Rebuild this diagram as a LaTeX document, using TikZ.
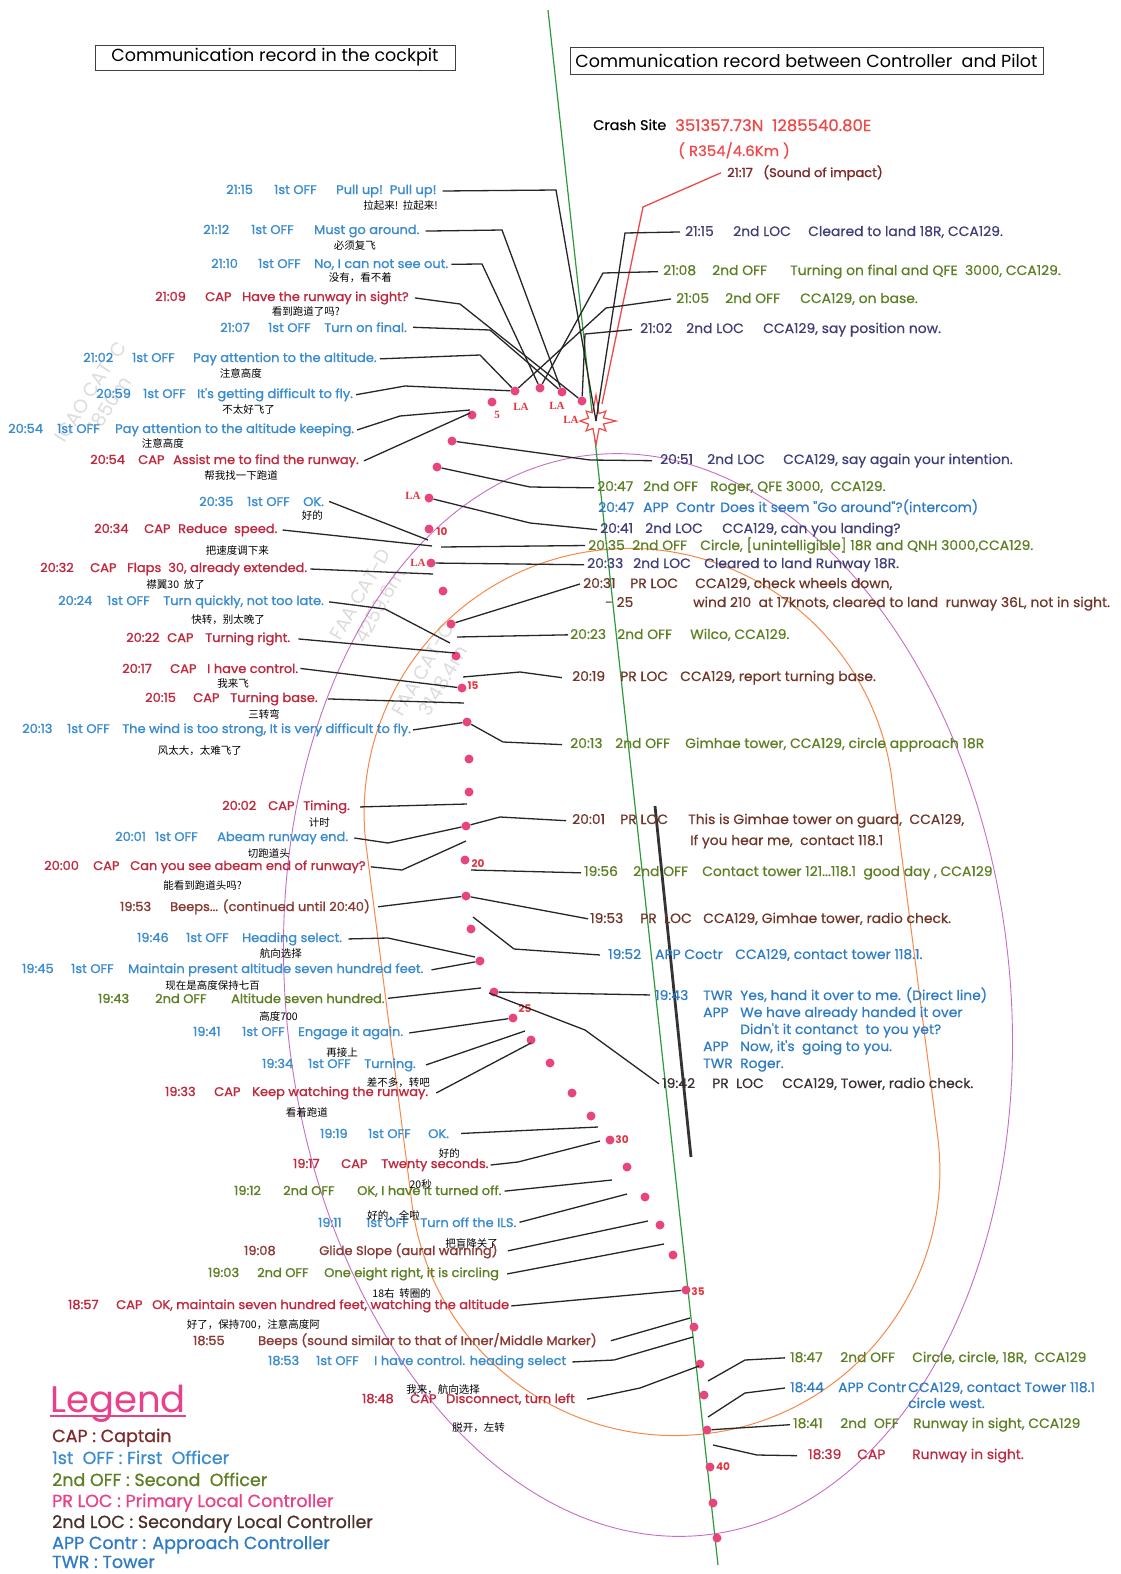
\documentclass[tikz,border=0pt]{standalone}
\usepackage{fontspec}
\setmainfont{Poppins}
\newfontfamily\cond[FakeStretch=1.04, FakeBold=1.3]{Poppins}
\newfontfamily\rfont[FakeStretch=1.03, FakeBold=0.5]{Poppins}
\newfontfamily\legfont[FakeBold=0.8]{Poppins}
\newfontfamily\cjk{Noto Sans CJK SC}
\newfontfamily\lafont{Liberation Serif}
\usetikzlibrary{calc}
\definecolor{capc}{HTML}{C0283E}
\definecolor{offc}{HTML}{3A8CCF}
\definecolor{sndc}{HTML}{5C7F23}
\definecolor{locc}{HTML}{3E3E78}
\definecolor{prc}{HTML}{6E3528}
\definecolor{dkc}{HTML}{3A3030}
\definecolor{appc}{HTML}{2E7CC6}
\definecolor{beepc}{HTML}{8A3A35}
\definecolor{dotc}{HTML}{E8457A}
\definecolor{numc}{HTML}{E3353F}
\definecolor{legc}{HTML}{E8408A}
\definecolor{grn}{HTML}{2E9A3A}
\definecolor{orng}{HTML}{F5894A}
\definecolor{purp}{HTML}{C86CC8}
\definecolor{crashred}{HTML}{F04848}
\definecolor{impc}{HTML}{7A2A2A}
\definecolor{lgbrown}{HTML}{4A3028}
\definecolor{wmark}{HTML}{DCDCDC}
\newcommand{\colrow}[5]{\makebox[#1][l]{#2}\makebox[#3][l]{#4}#5}
\begin{document}
\begin{tikzpicture}[x=1pt,y=-1pt,
  lt/.style={anchor=base west, inner sep=0pt, font=\cond\fontsize{12.5}{14}\selectfont},
  rt/.style={anchor=base west, inner sep=0pt, font=\rfont\fontsize{13.5}{14}\selectfont},
  cn/.style={anchor=base east, inner sep=0pt, font=\cjk\fontsize{10.5}{11}\selectfont},
  conn/.style={black!85, line width=1.3pt},
  dot/.style={circle, fill=dotc, inner sep=0pt, minimum size=9pt},
  lalab/.style={inner sep=0pt, text=numc, font=\lafont\bfseries\fontsize{11}{11}\selectfont},
  numlab/.style={inner sep=0pt, text=numc, font=\bfseries\fontsize{10.5}{11}\selectfont},
  titlebox/.style={draw=black!75, line width=0.8pt, inner sep=0pt, font=\fontsize{17.5}{18}\selectfont},
  leg/.style={anchor=base west, inner sep=0pt, font=\legfont\fontsize{17.5}{18}\selectfont},
  wm/.style={inner sep=0pt, text=wmark, align=center, font=\fontsize{19}{23}\selectfont}
]
\useasboundingbox (0,0) rectangle (1120,1574);
\fill[white] (0,0) rectangle (1120,1574);

% faint chart labels
\node[wm, rotate=57] (wm1) at (100,398) {ICAO CAT-C\\1850m};
\node[wm, rotate=60] (wm2) at (370,600) {FAA CAT-D\\4259.6m};
\node[wm, rotate=60] (wm3) at (433,675) {FAA CAT-C\\3148.4m};

% circling areas
\draw[purp, line width=0.9pt, rotate around={6:(648,995)}] (648,995) ellipse[x radius=362, y radius=543];
\draw[orng, line width=1pt, rotate around={7.3:(652,992)}]
  (387,812) arc[start angle=180, end angle=360, radius=265] -- (917,1172)
  arc[start angle=0, end angle=180, radius=265] -- cycle;

% runway line and green track axis
\draw[black!80, line width=2.8pt] (655,806) -- (691,1157);
\draw[grn, line width=1.2pt] (548,10) -- (718,1565);

% titles
\node[titlebox, minimum width=360pt, minimum height=25pt] (tl) at (275,57.5) {Communication record in the cockpit};
\node[titlebox, minimum width=473pt, minimum height=27pt] (tr) at (806.5,60.5) {Communication record between Controller\ \ and Pilot};

% crash site
\node[rt, font=\rfont\fontsize{14}{14}\selectfont] (crash) at (593,130) {Crash Site};
\node[rt, text=crashred, font=\rfont\fontsize{16}{16}\selectfont] (coord) at (675,131) {351357.73N\ \ 1285540.80E};
\node[rt, text=crashred, font=\rfont\fontsize{14.5}{15}\selectfont] (r354) at (678,156) {( R354/4.6Km )};
\node[rt, text=impc, font=\cond\fontsize{12.5}{13}\selectfont] (impact) at (727,177) {21:17\ \ \ (Sound of impact)};
\coordinate (star) at (596,421);
\draw[crashred, line width=1.3pt] ([xshift=-6pt]impact.west) -- (643,207) -- (602,404);
\draw[crashred, fill=white, line width=1.2pt]
  ($(star)+(0:20)$) -- ($(star)+(22:8)$) -- ($(star)+(45:14)$) -- ($(star)+(67:8)$) --
  ($(star)+(90:24)$) -- ($(star)+(112:8)$) -- ($(star)+(135:14)$) -- ($(star)+(157:8)$) --
  ($(star)+(180:16)$) -- ($(star)+(202:8)$) -- ($(star)+(225:14)$) -- ($(star)+(247:9)$) --
  ($(star)+(270:26)$) -- ($(star)+(292:8)$) -- ($(star)+(315:14)$) -- ($(star)+(337:8)$) -- cycle;

% track dots
\foreach \n/\x/\y in {1/515/391,2/540/388,3/562/392,4/582/401,5/492/402,6/472/415,7/452/441,8/437/467,9/429/498,10/429/529,
  11/431/563,12/443/591,13/451/624,14/456/656,15/462/688,16/467/722,17/469/759,18/469/792,19/466/826,20/465/860,
  21/466/896,22/471/929,23/480/961,24/494/992,25/513/1018,26/531/1040,27/550/1063,28/572/1093,29/591/1116,30/610/1140,
  31/627/1167,32/645/1197,33/660/1225,34/673/1255,35/686/1290,36/694/1327,37/700/1364,38/704/1395,39/707/1430,40/710/1467,
  41/713/1503,42/717/1538}
  \node[dot] (d\n) at (\x,\y) {};
\node[lalab] at (521,407) {LA};
\node[lalab] at (557,406) {LA};
\node[lalab] at (571,420) {LA};
\node[lalab] at (413,496) {LA};
\node[lalab] at (418,563) {LA};
\node[lalab] at (497,415) {5};
\node[numlab] at (442,532) {10};
\node[numlab] at (473,686) {15};
\node[numlab] at (478,864) {20};
\node[numlab] at (525,1009) {25};
\node[numlab] at (622,1140) {30};
\node[numlab] at (698,1292) {35};
\node[numlab] at (723,1467) {40};

% ---------- cockpit records (left) ----------
\node[lt, text=offc] (L2115) at (226,194) {\colrow{48pt}{21:15}{62pt}{1st OFF}{Pull up!\ \ Pull up!}};
\node[lt, text=offc] (L2112) at (203,234) {\colrow{48pt}{21:12}{63pt}{1st OFF}{Must go around.}};
\node[lt, text=offc] (L2110) at (211,268) {\colrow{47pt}{21:10}{56pt}{1st OFF}{No, I can not see out.}};
\node[lt, text=capc] (L2109) at (155,301) {\colrow{50pt}{21:09}{37pt}{CAP}{Have the runway in sight?}};
\node[lt, text=offc] (L2107) at (220,332) {\colrow{48pt}{21:07}{56pt}{1st OFF}{Turn on final.}};
\node[lt, text=offc] (L2102) at (83,362) {\colrow{49pt}{21:02}{61pt}{1st OFF}{Pay attention to the altitude.}};
\node[lt, text=offc] (L2059) at (96,398) {\colrow{47pt}{20:59}{54pt}{1st OFF}{It's getting difficult to fly.}};
\node[lt, text=offc] (L2054a) at (8,433) {\colrow{49pt}{20:54}{58pt}{1st OFF}{Pay attention to the altitude keeping.}};
\node[lt, text=capc] (L2054b) at (90,464) {\colrow{48pt}{20:54}{35pt}{CAP}{Assist me to find the runway.}};
\node[lt, text=offc] (L2035) at (199,506) {\colrow{48pt}{20:35}{56pt}{1st OFF}{OK.}};
\node[lt, text=capc] (L2034) at (94,533) {\colrow{50pt}{20:34}{34pt}{CAP}{Reduce\ \ speed.}};
\node[lt, text=capc] (L2032) at (40,572) {\colrow{50pt}{20:32}{37pt}{CAP}{Flaps\ \ 30, already extended.}};
\node[lt, text=offc] (L2024) at (58,605) {\colrow{49pt}{20:24}{56pt}{1st OFF}{Turn quickly, not too late.}};
\node[lt, text=capc] (L2022) at (126,642) {\colrow{41pt}{20:22}{38pt}{CAP}{Turning right.}};
\node[lt, text=capc] (L2017) at (122,673) {\colrow{48pt}{20:17}{37pt}{CAP}{I have control.}};
\node[lt, text=capc] (L2015) at (145,702) {\colrow{48pt}{20:15}{37pt}{CAP}{Turning base.}};
\node[lt, text=offc] (L2013) at (22,733) {\colrow{45pt}{20:13}{55pt}{1st OFF}{The wind is too strong, It is very difficult to fly.}};
\node[lt, text=capc] (L2002) at (222,810) {\colrow{46pt}{20:02}{35pt}{CAP}{Timing.}};
\node[lt, text=offc] (L2001) at (115,841) {\colrow{40pt}{20:01}{62pt}{1st OFF}{Abeam runway end.}};
\node[lt, text=capc] (L2000) at (44,870) {\colrow{49pt}{20:00}{37pt}{CAP}{Can you see abeam end of runway?}};
\node[lt, text=beepc] (L1953) at (120,911) {\makebox[50pt][l]{19:53}Beeps... (continued until 20:40)};
\node[lt, text=offc] (L1946) at (137,942) {\colrow{49pt}{19:46}{56pt}{1st OFF}{Heading select.}};
\node[lt, text=offc] (L1945) at (22,973) {\colrow{49pt}{19:45}{57pt}{1st OFF}{Maintain present altitude seven hundred feet.}};
\node[lt, text=sndc] (L1943) at (98,1003) {\colrow{57pt}{19:43}{76pt}{2nd OFF}{Altitude seven hundred.}};
\node[lt, text=offc] (L1941) at (193,1036) {\colrow{49pt}{19:41}{56pt}{1st OFF}{Engage it again.}};
\node[lt, text=offc] (L1934) at (262,1068) {\colrow{46pt}{19:34}{56pt}{1st OFF}{Turning.}};
\node[lt, text=capc] (L1933) at (165,1096) {\colrow{49pt}{19:33}{38pt}{CAP}{Keep watching the runway.}};
\node[lt, text=offc] (L1919) at (320,1138) {\colrow{48pt}{19:19}{60pt}{1st OFF}{OK.}};
\node[lt, text=capc] (L1917) at (293,1168) {\colrow{48pt}{19:17}{40pt}{CAP}{Twenty seconds.}};
\node[lt, text=sndc] (L1912) at (234,1195) {\colrow{49pt}{19:12}{74pt}{2nd OFF}{OK, I have it turned off.}};
\node[lt, text=offc] (L1911) at (318,1227) {\colrow{48pt}{19:11}{54pt}{1st OFF}{Turn off the ILS.}};
\node[lt, text=beepc] (L1908) at (244,1255) {\makebox[75pt][l]{19:08}Glide Slope (aural warning)};
\node[lt, text=sndc] (L1903) at (208,1277) {\colrow{49pt}{19:03}{67pt}{2nd OFF}{One eight right, it is circling}};
\node[lt, text=capc] (L1857) at (68,1309) {\colrow{48pt}{18:57}{36pt}{CAP}{OK, maintain seven hundred feet, watching the altitude}};
\node[lt, text=beepc] (L1855) at (193,1345) {\makebox[65pt][l]{18:55}Beeps (sound similar to that of Inner/Middle Marker)};
\node[lt, text=offc] (L1853) at (268,1365) {\colrow{48pt}{18:53}{58pt}{1st OFF}{I have control. heading select}};
\node[lt, text=capc] (L1848) at (362,1403) {\colrow{48pt}{18:48}{36pt}{CAP}{Disconnect, turn left}};

% Chinese translations
\node[cn] (C2115) at (438,209) {拉起来!\ \ 拉起来!};
\node[cn] (C2112) at (376,249) {必须复飞};
\node[cn] (C2110) at (392,281) {没有，看不着};
\node[cn] (C2109) at (340,315) {看到跑道了吗?};
\node[cn] (C2102) at (262,377) {注意高度};
\node[cn] (C2059) at (275,413) {不太好飞了};
\node[cn] (C2054a) at (184,447) {注意高度};
\node[cn] (C2054b) at (278,479) {帮我找一下跑道};
\node[cn] (C2035) at (323,519) {好的};
\node[cn] (C2034) at (269,554) {把速度调下来};
\node[cn] (C2032) at (205,588) {襟翼30\ \ 放了};
\node[cn] (C2024) at (265,623) {快转，别太晚了};
\node[cn] (C2017) at (249,687) {我来飞};
\node[cn] (C2015) at (280,718) {三转弯};
\node[cn] (C2013) at (242,754) {风太大，太难飞了};
\node[cn] (C2002) at (330,826) {计时};
\node[cn] (C2001) at (290,857) {切跑道头};
\node[cn] (C2000) at (242,889) {能看到跑道头吗?};
\node[cn] (C1946) at (302,957) {航向选择};
\node[cn] (C1945) at (260,989) {现在是高度保持七百};
\node[cn] (C1943) at (298,1020) {高度700};
\node[cn] (C1941) at (358,1056) {再接上};
\node[cn] (C1934) at (430,1086) {差不多，转吧};
\node[cn] (C1933) at (328,1116) {看着跑道};
\node[cn] (C1919) at (460,1157) {好的};
\node[cn] (C1917) at (432,1188) {20秒};
\node[cn] (C1912) at (420,1219) {好的，全啦};
\node[cn] (C1911) at (498,1247) {把盲降关了};
\node[cn] (C1903) at (431,1297) {18右\ \ 转圈的};
\node[cn] (C1857) at (320,1328) {好了，保持700，注意高度阿};
\node[cn] (C1853) at (480,1393) {我来，航向选择};
\node[cn] (C1848) at (505,1431) {脱开，左转};

% ---------- controller records (right) ----------
\node[rt, text=locc] (R2115) at (685,236) {\colrow{48pt}{21:15}{75pt}{2nd LOC}{Cleared to land 18R, CCA129.}};
\node[rt, text=sndc] (R2108) at (663,275) {\colrow{49pt}{21:08}{78pt}{2nd OFF}{Turning on final and QFE\ \ 3000, CCA129.}};
\node[rt, text=sndc] (R2105) at (676,303) {\colrow{49pt}{21:05}{75pt}{2nd OFF}{CCA129, on base.}};
\node[rt, text=locc] (R2102) at (640,333) {\colrow{46pt}{21:02}{77pt}{2nd LOC}{CCA129, say position now.}};
\node[rt, text=locc] (R2051) at (660,464) {\colrow{47pt}{20:51}{76pt}{2nd LOC}{CCA129, say again your intention.}};
\node[rt, text=sndc] (R2047a) at (597,491) {\colrow{46pt}{20:47}{67pt}{2nd OFF}{Roger, QFE 3000,\ \ CCA129.}};
\node[rt, text=appc] (R2047b) at (598,512) {\colrow{45pt}{20:47}{77pt}{APP\ \ Contr}{Does it seem "Go around"?(intercom)}};
\node[rt, text=locc] (R2041) at (600,533) {\colrow{45pt}{20:41}{77pt}{2nd LOC}{CCA129, can you landing?}};
\node[rt, text=sndc] (R2035) at (588,550) {\colrow{44pt}{20:35}{68pt}{2nd OFF}{Circle, [unintelligible] 18R and QNH 3000,CCA129.}};
\node[rt, text=locc] (R2033) at (587,568) {\colrow{46pt}{20:33}{71pt}{2nd LOC}{Cleared to land Runway 18R.}};
\node[rt, text=prc] (R2031) at (583,588) {\colrow{47pt}{20:31}{65pt}{PR LOC}{CCA129, check wheels down,}};
\node[rt, text=prc] (R2031b) at (605,607) {\makebox[88pt][l]{- 25}wind 210\ \ at 17knots, cleared to land\ \ runway 36L, not in sight.};
\node[rt, text=sndc] (R2023) at (570,639) {\colrow{47pt}{20:23}{73pt}{2nd OFF}{Wilco, CCA129.}};
\node[rt, text=prc] (R2019) at (572,681) {\colrow{48pt}{20:19}{60pt}{PR LOC}{CCA129, report turning base.}};
\node[rt, text=sndc] (R2013) at (570,748) {\colrow{45pt}{20:13}{70pt}{2nd OFF}{Gimhae tower, CCA129, circle approach 18R}};
\node[rt, text=prc] (R2001) at (572,824) {\colrow{48pt}{20:01}{68pt}{PR LOC}{This is Gimhae tower on guard,\ \ CCA129,}};
\node[rt, text=prc] (R2001b) at (690,845) {If you hear me,\ \ contact 118.1};
\node[rt, text=sndc] (R1956) at (584,876) {\colrow{49pt}{19:56}{69pt}{2nd OFF}{Contact tower 121...118.1\ \ good day , CCA129}};
\node[rt, text=prc] (R1953) at (590,923) {\colrow{50pt}{19:53}{63pt}{PR\ \ LOC}{CCA129, Gimhae tower, radio check.}};
\node[rt, text=appc] (R1952) at (608,959) {\colrow{47pt}{19:52}{80pt}{APP Coctr}{CCA129, contact tower 118.1.}};
\node[rt, text=appc] (R1943) at (655,1000) {\colrow{48pt}{19:43}{37pt}{TWR}{Yes, hand it over to me. (Direct line)}};
\node[rt, text=appc] (R1943b) at (703,1017) {\makebox[37pt][l]{APP}We have already handed it over};
\node[rt, text=appc] (R1943c) at (740,1034) {Didn't it contanct\ \ to you yet?};
\node[rt, text=appc] (R1943d) at (703,1051) {\makebox[37pt][l]{APP}Now, it's\ \ going to you.};
\node[rt, text=appc] (R1943e) at (703,1068) {\makebox[37pt][l]{TWR}Roger.};
\node[rt, text=dkc] (R1942) at (662,1088) {\colrow{50pt}{19:42}{70pt}{PR\ \ LOC}{CCA129, Tower, radio check.}};
\node[rt, text=sndc] (R1847) at (790,1362) {\colrow{50pt}{18:47}{72pt}{2nd OFF}{Circle, circle, 18R,\ \ CCA129}};
\node[rt, text=appc] (R1844) at (790,1392) {\colrow{48pt}{18:44}{70pt}{APP Contr}{CCA129, contact Tower 118.1}};
\node[rt, text=appc] (R1844b) at (908,1408) {circle west.};
\node[rt, text=sndc] (R1841) at (793,1428) {\colrow{47pt}{18:41}{73pt}{2nd\ \ OFF}{Runway in sight, CCA129}};
\node[rt, text=capc] (R1839) at (808,1459) {\colrow{49pt}{18:39}{55pt}{CAP}{Runway in sight.}};

% ---------- connectors: cockpit ----------
\draw[conn] ([xshift=6pt]L2115.east) -- (556,190) -- (star);
\draw[conn] ([xshift=6pt]L2112.east) -- (502,230) -- (d3);
\draw[conn] ([xshift=3pt]L2110.east) -- (482,264) -- (d2);
\draw[conn] ([xshift=6pt]L2109.east) -- (460,304) -- (d4);
\draw[conn] ([xshift=6pt]L2107.east) -- (490,330) -- (d3);
\draw[conn] ([xshift=3pt]L2102.east) -- (480,355) -- (d1);
\draw[conn] ([xshift=3pt]L2059.east) -- (405,386) -- (d1);
\draw[conn] ([xshift=3pt]L2054a.east) -- (400,416) -- (470,410);
\draw[conn] ([xshift=5pt]L2054b.east) -- (470,413);
\draw[conn] ([xshift=5pt]L2035.east) -- (428,540);
\draw[conn] ([xshift=5pt]L2034.east) -- (432,546);
\draw[conn] ([xshift=3pt]L2032.east) -- (433,574);
\draw[conn] ([xshift=5pt]L2024.east) -- (385,609) -- (450,643);
\draw[conn] ([xshift=8pt]L2022.east) -- (455,653);
\draw[conn] ([xshift=2pt]L2017.east) -- (d15);
\draw[conn] ([xshift=10pt]L2015.east) -- (464,703);
\draw[conn] ([xshift=2pt]L2013.east) -- (d16);
\draw[conn] ([xshift=10pt]L2002.east) -- (467,804);
\draw[conn] ([xshift=6pt]L2001.east) -- (388,843) -- (d19);
\draw[conn] ([xshift=5pt]L2000.east) -- (402,870) -- (466,841);
\draw[conn] ([xshift=8pt]L1953.east) -- (d21);
\draw[conn] ([xshift=6pt]L1946.east) -- (388,938) -- (475,957);
\draw[conn] ([xshift=8pt]L1945.east) -- (d23);
\draw[conn] ([xshift=3pt]L1943.east) -- (481,988);
\draw[conn] ([xshift=6pt]L1941.east) -- (d25);
\draw[conn] ([xshift=10pt]L1934.east) -- (525,1031);
\draw[conn] ([xshift=8pt]L1933.east) -- (531,1043);
\draw[conn] ([xshift=12pt]L1919.east) -- (598,1127);
\draw[conn] ([xshift=2pt]L1917.east) -- (518,1162) -- (600,1141);
\draw[conn] ([xshift=3pt]L1912.east) -- (612,1180);
\draw[conn] ([xshift=3pt]L1911.east) -- (627,1194);
\draw[conn] ([xshift=10pt]L1908.east) -- (648,1221);
\draw[conn] ([xshift=8pt]L1903.east) -- (664,1244);
\draw[conn] ([xshift=2pt]L1857.east) -- (d35);
\draw[conn] ([xshift=14pt]L1855.east) -- (690,1318);
\draw[conn] ([xshift=6pt]L1853.east) -- (614,1360) -- (693,1337);
\draw[conn] ([xshift=12pt]L1848.east) -- (640,1388) -- (699,1366);

% ---------- connectors: controller ----------
\draw[conn] ([xshift=-5pt]R2115.west) -- (625,233) -- (star);
\draw[conn] ([xshift=-5pt]R2108.west) -- (603,273) -- (d2);
\draw[conn] ([xshift=-5pt]R2105.west) -- (606,308) -- (d1);
\draw[conn] ([xshift=-8pt]R2102.west) -- (585,334) -- (d4);
\draw[conn] ([xshift=-8pt]R2051.west) -- (590,460) -- (d7);
\draw[conn] ([xshift=-3pt]R2047a.west) -- (530,487) -- (d8);
\draw[conn] ([xshift=-3pt]R2041.west) -- (530,523) -- (d9);
\draw[conn] ([xshift=-3pt]R2035.west) -- (441,547);
\draw[conn] ([xshift=-3pt]R2033.west) -- (d11);
\draw[conn] ([xshift=-3pt]R2031.west) -- (d13);
\draw[conn] ([xshift=-2pt]R2023.west) -- (457,637);
\draw[conn] ([xshift=-10pt]R2019.west) -- (520,672) -- (463,677);
\draw[conn] ([xshift=-8pt]R2013.west) -- (503,742) -- (d16);
\draw[conn] ([xshift=-6pt]R2001.west) -- (500,817) -- (d19);
\draw[conn] ([xshift=-3pt]R1956.west) -- (471,870);
\draw[conn] ([xshift=-2pt]R1953.west) -- (d21);
\draw[conn] ([xshift=-8pt]R1952.west) -- (514,949) -- (473,917);
\draw[conn] ([xshift=-5pt]R1943.west) -- (d24);
\draw[conn] ([xshift=-3pt]R1942.west) -- (585,1030) -- (489,993);
\draw[conn] ([xshift=-5pt]R1847.west) -- (745,1360) -- (708,1381);
\draw[conn] ([xshift=-5pt]R1844.west) -- (745,1393) -- (708,1417);
\draw[conn] ([xshift=-3pt]R1841.west) -- (d39);
\draw[conn] ([xshift=-11pt]R1839.west) -- (757,1455) -- (713,1445);

% ---------- legend ----------
\node[anchor=base west, inner sep=0pt, text=legc, font=\fontsize{37}{38}\selectfont] (legend) at (50,1412) {Legend};
\draw[legc, line width=1.3pt] ([yshift=-4pt]legend.base west) -- ([yshift=-4pt]legend.base east);
\node[leg, text=impc] (lg1) at (52,1442) {CAP : Captain};
\node[leg, text=offc] (lg2) at (52,1464) {1st\ \ OFF : First\ \ Officer};
\node[leg, text=sndc] (lg3) at (52,1486) {2nd OFF : Second\ \ Officer};
\node[leg, text=legc] (lg4) at (52,1507) {PR LOC : Primary Local Controller};
\node[leg, text=lgbrown] (lg5) at (52,1528) {2nd LOC : Secondary Local Controller};
\node[leg, text=appc] (lg6) at (52,1549) {APP Contr : Approach Controller};
\node[leg, text=appc] (lg7) at (52,1568) {TWR : Tower};
\end{tikzpicture}
\end{document}
